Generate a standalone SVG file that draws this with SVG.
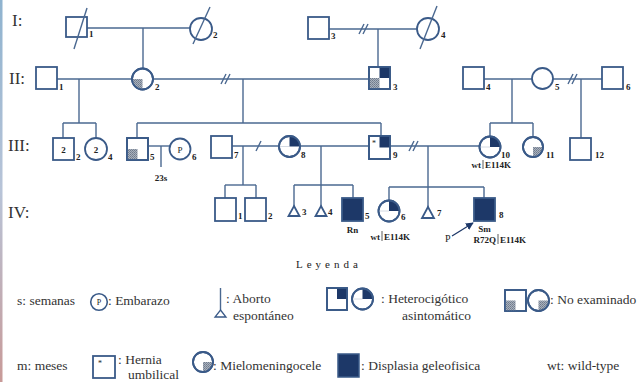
<svg xmlns="http://www.w3.org/2000/svg" width="644" height="382" viewBox="0 0 644 382">
<defs>
<linearGradient id="edge" x1="0" y1="0" x2="0" y2="1">
<stop offset="0" stop-color="#8fb3cf"/><stop offset="0.5" stop-color="#b8c4d8"/><stop offset="1" stop-color="#c89a98"/>
</linearGradient>
<pattern id="dots" width="2" height="2" patternUnits="userSpaceOnUse">
<rect width="2" height="2" fill="#a9b1bd"/><rect width="1" height="1" fill="#6f7a8b"/><rect x="1" y="1" width="1" height="1" fill="#7d8898"/>
</pattern>
<marker id="arr" viewBox="0 0 10 10" refX="9" refY="5" markerWidth="6" markerHeight="6" orient="auto"><path d="M0,0 L10,5 L0,10 Z" fill="#1d3868"/></marker>
</defs>
<style>
.ln{stroke:#4a6890;stroke-width:1.4;fill:none}
.nd{stroke:#3a5a88;stroke-width:1.8;fill:#fff}
.dk{fill:#1d3868}
.gr{fill:url(#dots)}
.fa{stroke:#c9d1dc;stroke-width:0.8}
.t{font-family:"Liberation Serif","Times New Roman",serif;fill:#222}
.n{font-size:9px;font-weight:bold}
.gen{font-size:17px;fill:#333}
.leg{font-size:13.5px;fill:#333}
</style>
<rect width="644" height="382" fill="#fff"/>
<rect x="0" y="0" width="2.5" height="382" fill="url(#edge)"/>

<g id="gen-labels" class="t gen">
<text x="12" y="26">I:</text>
<text x="9" y="84">II:</text>
<text x="8" y="151">III:</text>
<text x="8" y="218">IV:</text>
</g>

<g id="connectors">
<line class="ln" x1="87" y1="28" x2="190" y2="28"/>
<line class="ln" x1="143" y1="28" x2="143" y2="68"/>
<line class="ln" x1="329" y1="29" x2="417" y2="29"/>
<line class="ln" x1="359" y1="34" x2="364" y2="24"/><line class="ln" x1="363" y1="34" x2="368" y2="24"/>
<line class="ln" x1="378" y1="29" x2="378" y2="67"/>
<line class="ln" x1="57" y1="79" x2="132" y2="79"/>
<line class="ln" x1="79" y1="79" x2="79" y2="123"/>
<line class="ln" x1="63" y1="123" x2="96" y2="123"/>
<line class="ln" x1="63" y1="123" x2="63" y2="138"/>
<line class="ln" x1="96" y1="123" x2="96" y2="138"/>
<line class="ln" x1="153" y1="79" x2="369" y2="79"/>
<line class="ln" x1="221" y1="84" x2="226" y2="74"/><line class="ln" x1="225" y1="84" x2="230" y2="74"/>
<line class="ln" x1="243" y1="79" x2="243" y2="123"/>
<line class="ln" x1="137" y1="123" x2="381" y2="123"/>
<line class="ln" x1="137" y1="123" x2="137" y2="138"/>
<line class="ln" x1="381" y1="123" x2="381" y2="136"/>
<line class="ln" x1="484" y1="79" x2="532" y2="79"/>
<line class="ln" x1="512" y1="79" x2="512" y2="123"/>
<line class="ln" x1="490" y1="123" x2="533" y2="123"/>
<line class="ln" x1="490" y1="123" x2="490" y2="136"/>
<line class="ln" x1="533" y1="123" x2="533" y2="137"/>
<line class="ln" x1="553" y1="79" x2="602" y2="79"/>
<line class="ln" x1="568" y1="84" x2="573" y2="74"/><line class="ln" x1="572" y1="84" x2="577" y2="74"/>
<line class="ln" x1="581" y1="79" x2="581" y2="138"/>
<line class="ln" x1="148" y1="146" x2="170" y2="146"/>
<line class="ln" x1="161" y1="146" x2="161" y2="167"/>
<line class="ln" x1="232" y1="146" x2="279" y2="146"/>
<line class="ln" x1="256" y1="151" x2="261" y2="141"/>
<line class="ln" x1="243" y1="146" x2="243" y2="185"/>
<line class="ln" x1="225" y1="185" x2="256" y2="185"/>
<line class="ln" x1="225" y1="185" x2="225" y2="198"/>
<line class="ln" x1="256" y1="185" x2="256" y2="198"/>
<line class="ln" x1="300" y1="146" x2="369" y2="146"/>
<line class="ln" x1="321" y1="146" x2="321" y2="206"/>
<line class="ln" x1="294" y1="185" x2="353" y2="185"/>
<line class="ln" x1="294" y1="185" x2="294" y2="206"/>
<line class="ln" x1="353" y1="185" x2="353" y2="198"/>
<line class="ln" x1="390" y1="146" x2="479" y2="146"/>
<line class="ln" x1="409" y1="151" x2="414" y2="141"/><line class="ln" x1="413" y1="151" x2="418" y2="141"/>
<line class="ln" x1="428" y1="146" x2="428" y2="207"/>
<line class="ln" x1="389" y1="187" x2="484" y2="187"/>
<line class="ln" x1="389" y1="187" x2="389" y2="200"/>
<line class="ln" x1="484" y1="187" x2="484" y2="198"/>
<line x1="452" y1="236" x2="473" y2="223" stroke="#1d3868" stroke-width="1.3" marker-end="url(#arr)"/>
</g>

<g id="I-1"><rect class="nd" x="66" y="17" width="21" height="20"/><line class="ln" x1="74" y1="49" x2="87" y2="8"/><text class="t n" x="89" y="37">1</text></g>
<g id="I-2"><circle class="nd" cx="201" cy="29" r="11"/><line class="ln" x1="193" y1="44" x2="210" y2="7"/><text class="t n" x="213" y="38">2</text></g>
<g id="I-3"><rect class="nd" x="308" y="17" width="21" height="22"/><text class="t n" x="331" y="39">3</text></g>
<g id="I-4"><circle class="nd" cx="428" cy="29" r="11"/><line class="ln" x1="420" y1="49" x2="437" y2="6"/><text class="t n" x="441" y="38">4</text></g>

<g id="II-1"><rect class="nd" x="36" y="67" width="21" height="22"/><text class="t n" x="59" y="90">1</text></g>
<g id="II-2"><circle class="nd" cx="142.5" cy="79" r="10.5"/><path class="gr" d="M142.5,79 L132,79 A10.5,10.5 0 0 0 142.5,89.5 Z"/><circle cx="142.5" cy="79" r="10.5" fill="none" stroke="#3a5a88" stroke-width="1.8"/><text class="t n" x="155" y="90">2</text></g>
<g id="II-3"><rect class="nd" x="369" y="67" width="21" height="22"/><rect class="dk" x="379.5" y="67" width="10.5" height="11"/><rect class="gr" x="369" y="78" width="10.5" height="11"/><rect x="369" y="67" width="21" height="22" fill="none" stroke="#3a5a88" stroke-width="1.8"/><text class="t n" x="393" y="90">3</text></g>
<g id="II-4"><rect class="nd" x="463" y="67" width="21" height="22"/><text class="t n" x="486" y="90">4</text></g>
<g id="II-5"><circle class="nd" cx="542.5" cy="78.5" r="10.5"/><text class="t n" x="555" y="90">5</text></g>
<g id="II-6"><rect class="nd" x="602" y="67" width="21" height="22"/><text class="t n" x="626" y="90">6</text></g>

<g id="III-2"><rect class="nd" x="53" y="138" width="21" height="22"/><text class="t n" x="63.5" y="153" text-anchor="middle" font-size="10">2</text><text class="t n" x="76" y="160">2</text></g>
<g id="III-4"><circle class="nd" cx="96" cy="149" r="11"/><text class="t n" x="96" y="153" text-anchor="middle" font-size="10">2</text><text class="t n" x="108" y="160">4</text></g>
<g id="III-5"><rect class="nd" x="127" y="138" width="21" height="22"/><rect class="gr" x="127" y="149" width="10.5" height="11"/><rect x="127" y="138" width="21" height="22" fill="none" stroke="#3a5a88" stroke-width="1.8"/><text class="t n" x="150" y="160">5</text></g>
<g id="III-6"><circle class="nd" cx="180" cy="149" r="10.5"/><text class="t" x="180" y="152.5" text-anchor="middle" font-size="9">P</text><text class="t n" x="192" y="160">6</text></g>
<g id="pregnancy-23s"><text class="t n" x="161" y="181" text-anchor="middle" font-size="8">23s</text></g>
<g id="III-7"><rect class="nd" x="211" y="136" width="21" height="22"/><text class="t n" x="234" y="158">7</text></g>
<g id="III-8"><circle class="nd" cx="289.5" cy="146.5" r="10.5"/><line class="fa" x1="279" y1="146.5" x2="289.5" y2="146.5"/><path class="dk" d="M289.5,146.5 L289.5,136 A10.5,10.5 0 0 1 300,146.5 Z"/><circle cx="289.5" cy="146.5" r="10.5" fill="none" stroke="#3a5a88" stroke-width="1.8"/><text class="t n" x="301" y="158">8</text></g>
<g id="III-9"><rect class="nd" x="369" y="136" width="21" height="23"/><rect class="dk" x="379.5" y="136" width="10.5" height="11.5"/><rect x="369" y="136" width="21" height="23" fill="none" stroke="#3a5a88" stroke-width="1.8"/><text class="t" x="372" y="146" font-size="8">*</text><text class="t n" x="393" y="158">9</text></g>
<g id="III-10"><circle class="nd" cx="490" cy="147" r="10.5"/><line class="fa" x1="479.5" y1="147" x2="490" y2="147"/><path class="dk" d="M490,147 L490,136.5 A10.5,10.5 0 0 1 500.5,147 Z"/><circle cx="490" cy="147" r="10.5" fill="none" stroke="#3a5a88" stroke-width="1.8"/><text class="t n" x="501" y="158">10</text>
<text class="t n" x="481" y="168" text-anchor="end">wt</text><line x1="483" y1="160" x2="483" y2="169" stroke="#333" stroke-width="0.8"/><text class="t n" x="485" y="168">E114K</text></g>
<g id="III-11"><circle class="nd" cx="533" cy="147" r="10"/><path class="gr" d="M533,147 L543,147 A10,10 0 0 1 533,157 Z"/><circle cx="533" cy="147" r="10" fill="none" stroke="#3a5a88" stroke-width="1.8"/><text class="t n" x="546" y="158">11</text></g>
<g id="III-12"><rect class="nd" x="570" y="138" width="21" height="22"/><text class="t n" x="595" y="158">12</text></g>

<g id="IV-1"><rect class="nd" x="215" y="198" width="21" height="23"/><text class="t n" x="238" y="219">1</text></g>
<g id="IV-2"><rect class="nd" x="245" y="198" width="21" height="23"/><text class="t n" x="268" y="219">2</text></g>
<g id="IV-3"><path class="nd" d="M294,206 L299.5,216 L288.5,216 Z" stroke-width="1.4"/><text class="t n" x="302" y="215">3</text></g>
<g id="IV-4"><path class="nd" d="M321,206 L326.5,216 L315.5,216 Z" stroke-width="1.4"/><text class="t n" x="328" y="215">4</text></g>
<g id="IV-5"><rect class="nd dk" x="342" y="198" width="21" height="23" style="fill:#1d3868"/><text class="t n" x="365" y="219">5</text><text class="t n" x="352.5" y="233" text-anchor="middle">Rn</text></g>
<g id="IV-6"><circle class="nd" cx="389" cy="211" r="10.5"/><line class="fa" x1="378.5" y1="211" x2="389" y2="211"/><path class="dk" d="M389,211 L389,200.5 A10.5,10.5 0 0 1 399.5,211 Z"/><circle cx="389" cy="211" r="10.5" fill="none" stroke="#3a5a88" stroke-width="1.8"/><text class="t n" x="401" y="220">6</text>
<text class="t n" x="380" y="240" text-anchor="end">wt</text><line x1="382" y1="231" x2="382" y2="241" stroke="#333" stroke-width="0.8"/><text class="t n" x="384" y="240">E114K</text></g>
<g id="IV-7"><path class="nd" d="M428,207 L434,218 L422,218 Z" stroke-width="1.4"/><text class="t n" x="437" y="216">7</text></g>
<g id="IV-8"><rect class="nd" x="474" y="198" width="21" height="23" style="fill:#1d3868"/><text class="t n" x="499" y="218">8</text><text class="t n" x="484.5" y="232" text-anchor="middle">Sm</text>
<text class="t n" x="496" y="243" text-anchor="end">R72Q</text><line x1="498" y1="234" x2="498" y2="244" stroke="#333" stroke-width="0.8"/><text class="t n" x="500" y="243">E114K</text>
<text class="t" x="445" y="242" font-size="10">P</text></g>

<g id="legend">
<text class="t" x="296" y="268" font-size="11" letter-spacing="4" fill="#333">Leyenda</text>
<text class="t leg" x="17" y="305">s: semanas</text>
<circle cx="99" cy="302" r="8.3" fill="#fff" stroke="#3a5a88" stroke-width="1.6"/><text class="t" x="99" y="305" font-size="8" text-anchor="middle">P</text>
<text class="t leg" x="108" y="305">: Embarazo</text>
<line class="ln" x1="220.5" y1="288" x2="220.5" y2="310"/><path d="M220.5,310 L226,317 L215,317 Z" fill="#fff" stroke="#3a5a88" stroke-width="1.3"/>
<text class="t leg" x="226" y="303">: Aborto</text><text class="t leg" x="233" y="320">espontáneo</text>
<rect class="nd" x="327" y="288" width="20" height="22"/><rect class="dk" x="337" y="288" width="10" height="11"/><rect x="327" y="288" width="20" height="22" fill="none" stroke="#3a5a88" stroke-width="1.8"/>
<circle class="nd" cx="362.5" cy="299" r="10.5"/><line class="fa" x1="352" y1="299" x2="362.5" y2="299"/><path class="dk" d="M362.5,299 L362.5,288.5 A10.5,10.5 0 0 1 373,299 Z"/><circle cx="362.5" cy="299" r="10.5" fill="none" stroke="#3a5a88" stroke-width="1.8"/>
<text class="t leg" x="381" y="303">: Heterocigótico</text><text class="t leg" x="402" y="320">asintomático</text>
<rect class="nd" x="505" y="290" width="21" height="21"/><rect class="gr" x="505" y="300.5" width="10.5" height="10.5"/><rect x="505" y="290" width="21" height="21" fill="none" stroke="#3a5a88" stroke-width="1.6"/>
<circle class="nd" cx="538.5" cy="300.5" r="10.5"/><path class="gr" d="M538.5,300.5 L549,300.5 A10.5,10.5 0 0 1 538.5,311 Z"/><circle cx="538.5" cy="300.5" r="10.5" fill="none" stroke="#3a5a88" stroke-width="1.8"/>
<text class="t leg" x="550" y="304">: No examinado</text>
<text class="t leg" x="17" y="370">m: meses</text>
<rect class="nd" x="93" y="356" width="22" height="22"/><text class="t" x="98" y="366" font-size="8">*</text>
<text class="t leg" x="118" y="364">: Hernia</text><text class="t leg" x="128" y="378.5">umbilical</text>
<circle class="nd" cx="203" cy="362" r="10"/><path class="gr" d="M203,362 L213,362 A10,10 0 0 1 203,372 Z"/><circle cx="203" cy="362" r="10" fill="none" stroke="#3a5a88" stroke-width="1.8"/>
<text class="t leg" x="213" y="370">: Mielomeningocele</text>
<rect x="338" y="354" width="21" height="23" fill="#1d3868" stroke="#3a5a88" stroke-width="1.5"/>
<text class="t leg" x="361" y="370">: Displasia geleofisica</text>
<text class="t leg" x="547" y="370">wt: wild-type</text>
</g>
</svg>
